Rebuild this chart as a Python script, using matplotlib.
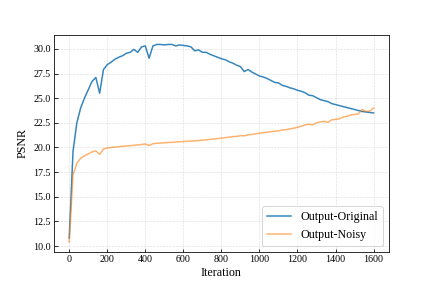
import matplotlib
matplotlib.use("Agg")
import matplotlib.pyplot as plt
import numpy as np

plt.rcParams['font.family'] = 'serif'
plt.rcParams['font.serif'] = ['Liberation Serif', 'DejaVu Serif']
plt.rcParams['mathtext.fontset'] = 'stix'

# iterations, every 20 steps
iters = np.arange(0, 1601, 20)

# PSNR of output vs original image
psnr_original = [
    10.8, 19.6, 22.5, 24.0, 25.0, 25.85, 26.7, 27.1, 25.5, 27.9,
    28.4, 28.65, 28.95, 29.15, 29.3, 29.55, 29.65, 29.95, 29.65, 30.2,
    30.3, 29.05, 30.3, 30.45, 30.45, 30.4, 30.45, 30.45, 30.3, 30.4,
    30.35, 30.3, 30.2, 29.8, 29.9, 29.65, 29.65, 29.45, 29.3, 29.15,
    29.0, 28.9, 28.7, 28.55, 28.35, 28.2, 27.7, 27.9, 27.65, 27.45,
    27.25, 27.15, 27.0, 26.8, 26.6, 26.55, 26.3, 26.2, 26.05, 25.95,
    25.8, 25.7, 25.55, 25.3, 25.25, 25.05, 24.85, 24.75, 24.65, 24.45,
    24.35, 24.25, 24.15, 24.05, 23.95, 23.85, 23.75, 23.65, 23.6, 23.55,
    23.5,
]

# PSNR of output vs noisy image
psnr_noisy = [
    10.4, 17.2, 18.4, 18.9, 19.15, 19.35, 19.55, 19.65, 19.3, 19.85,
    19.95, 20.0, 20.05, 20.08, 20.12, 20.15, 20.18, 20.22, 20.25, 20.3,
    20.35, 20.2, 20.38, 20.42, 20.45, 20.48, 20.5, 20.52, 20.55, 20.58,
    20.6, 20.63, 20.65, 20.68, 20.7, 20.74, 20.78, 20.82, 20.86, 20.9,
    20.95, 21.0, 21.05, 21.1, 21.12, 21.2, 21.18, 21.28, 21.32, 21.38,
    21.45, 21.5, 21.55, 21.6, 21.65, 21.68, 21.78, 21.8, 21.88, 21.95,
    22.05, 22.15, 22.3, 22.35, 22.3, 22.5, 22.6, 22.65, 22.55, 22.8,
    22.85, 22.9, 23.1, 23.15, 23.3, 23.35, 23.4, 23.85, 23.65, 23.7,
    24.0,
]

fig, ax = plt.subplots(figsize=(6, 4), dpi=72)
fig.subplots_adjust(left=0.125, right=0.9, top=0.88, bottom=0.125)

ax.plot(iters, psnr_original, color='tab:blue', alpha=0.9, lw=1.5, label='Output-Original')
ax.plot(iters, psnr_noisy, color='tab:orange', alpha=0.6, lw=1.5, label='Output-Noisy')

ax.grid(True, ls='--', color='#dddddd', lw=0.6)
ax.set_xticks(np.arange(0, 1601, 200))
ax.set_yticks(np.arange(10, 30.1, 2.5))
ax.tick_params(direction='in', labelsize=10)
ax.set_xlabel('Iteration', fontsize=12, labelpad=2)
ax.set_ylabel('PSNR', fontsize=12)
ax.legend(loc='lower right', fontsize=12)

fig.savefig('out.png', dpi=72)
